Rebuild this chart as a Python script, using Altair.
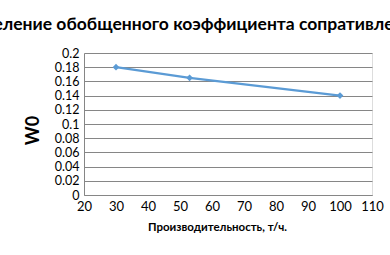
import altair as alt
import pandas as pd

x_vals = [30, 53, 100]
y_vals = [0.18, 0.165, 0.14]
title_text = "Определение обобщенного коэффициента сопративления"
x_title = "Производительность, т/ч."
y_title = "W0"
x_ticks = [20, 30, 40, 50, 60, 70, 80, 90, 100, 110]
y_ticks = [0, 0.02, 0.04, 0.06, 0.08, 0.1, 0.12, 0.14, 0.16, 0.18, 0.2]

df = pd.DataFrame({"x": x_vals, "y": y_vals})
FONT = "Lato"

base = alt.Chart(df).encode(
    x=alt.X("x:Q", scale=alt.Scale(domain=[20, 110], nice=False),
            axis=alt.Axis(values=x_ticks, grid=False, ticks=False, labelOverlap=False,
                          labelFlush=False,
                          domainColor="#868686", labelFont=FONT, labelFontSize=13,
                          labelColor="#000", labelPadding=5, title=x_title,
                          titleFont=FONT, titleFontSize=11.5, titleFontWeight="bold",
                          titleColor="#000", titleX=133, titleY=32,
                          titleBaseline="middle", titleAnchor="middle")),
    y=alt.Y("y:Q", scale=alt.Scale(domain=[0, 0.2], nice=False),
            axis=alt.Axis(values=y_ticks, format="~g", labelOverlap=False, labelFlush=False,
                          grid=True, gridColor="#868686", gridWidth=1, ticks=False,
                          domainColor="#868686", labelFont=FONT, labelFontSize=12.5,
                          labelColor="#000", labelPadding=5, title=y_title,
                          titleFont=FONT, titleFontSize=18, titleFontWeight="bold",
                          titleColor="#000", titleX=-51, titleY=77,
                          titleBaseline="middle", titleAngle=-90)),
)

line = base.mark_line(color="#5B9BD5", strokeWidth=2.2)
points = base.mark_point(shape="diamond", filled=True, color="#5B9BD5", size=45, opacity=1)

title = alt.Chart(pd.DataFrame({"t": [title_text]})).mark_text(
    font=FONT, fontSize=17.5, fontWeight="bold", color="#000", align="center", baseline="middle"
).encode(x=alt.value(97), y=alt.value(-28), text="t:N")

chart = alt.layer(line, points, title).properties(
    width=288, height=142,
    autosize=alt.AutoSizeParams(type="none"),
    padding={"left": 84, "top": 53, "right": 18, "bottom": 60},
).configure_view(stroke=None).configure(background="white")

chart.save("out.html", embed_options={"renderer": "svg", "actions": False})
